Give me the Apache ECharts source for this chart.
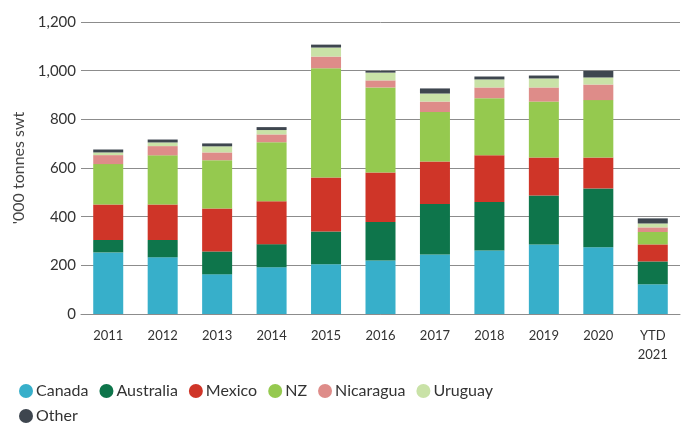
<!DOCTYPE html>
<html>
<head>
<meta charset="utf-8">
<script src="https://cdn.jsdelivr.net/npm/echarts@6/dist/echarts.min.js"></script>
<style>
  html, body { margin: 0; padding: 0; background: #fff; }
  #chart { width: 686px; height: 423px; }
</style>
</head>
<body>
<div id="chart"></div>
<script>
// categories & stacked values ('000 tonnes swt)
const years = ["2011", "2012", "2013", "2014", "2015", "2016", "2017", "2018", "2019", "2020", "YTD\n2021"];
const canada    = [253, 233, 163, 192, 204, 220, 245, 261, 286, 274, 122];
const australia = [51, 71, 94, 95, 135, 158, 207, 199, 201, 242, 94];
const mexico    = [146, 146, 177, 176, 222, 204, 175, 192, 156, 127, 70];
const nz        = [166, 202, 198, 243, 449, 349, 203, 235, 230, 236, 51];
const nicaragua = [37, 38, 32, 32, 48, 29, 43, 44, 58, 64, 19];
const uruguay   = [11, 15, 25, 18, 37, 32, 33, 33, 37, 29, 16];
const other     = [12, 12, 12, 12, 12, 7, 21, 12, 12, 27, 21];

const seriesDefs = [
  { name: "Canada", data: canada, color: "#37AFCA" },
  { name: "Australia", data: australia, color: "#0E754B" },
  { name: "Mexico", data: mexico, color: "#CF3528" },
  { name: "NZ", data: nz, color: "#95C94F" },
  { name: "Nicaragua", data: nicaragua, color: "#DE8C89" },
  { name: "Uruguay", data: uruguay, color: "#C9E2A7" },
  { name: "Other", data: other, color: "#3E464F" }
];

const font = "Lato, 'Open Sans', sans-serif";
const chart = echarts.init(document.getElementById("chart"));

// two legend rows, the second holds only "Other"
const legendBase = {
  left: 14,
  icon: "circle",
  itemWidth: 14,
  itemHeight: 14,
  itemGap: 11,
  textStyle: { fontSize: 16, color: "#333", fontFamily: font, padding: [0, 0, 0, -2] }
};

chart.setOption({
  animation: false,
  textStyle: { fontFamily: font },
  grid: { left: 81, right: 6, top: 22, bottom: 109 },
  legend: [
    Object.assign({}, legendBase, { top: 378, data: seriesDefs.slice(0, 6).map(s => s.name) }),
    Object.assign({}, legendBase, { top: 403, data: ["Other"] })
  ],
  xAxis: {
    type: "category",
    data: years,
    axisTick: { show: false },
    axisLine: { lineStyle: { color: "#8c8c8c", width: 1 } },
    axisLabel: { color: "#333", fontSize: 13, margin: 12, lineHeight: 19 }
  },
  yAxis: {
    type: "value",
    min: 0,
    max: 1200,
    interval: 200,
    name: "'000 tonnes swt",
    nameLocation: "middle",
    nameGap: 49,
    nameTextStyle: { color: "#444", fontSize: 16, fontFamily: font },
    axisLine: { show: false },
    axisTick: { show: false },
    axisLabel: {
      color: "#333",
      fontSize: 15,
      margin: 5,
      formatter: v => v.toLocaleString("en-US")
    },
    splitLine: { lineStyle: { color: "#8c8c8c", width: 1 } }
  },
  series: seriesDefs.map(s => ({
    name: s.name,
    type: "bar",
    stack: "total",
    barWidth: 30,
    itemStyle: { color: s.color },
    data: s.data
  }))
});
</script>
</body>
</html>
